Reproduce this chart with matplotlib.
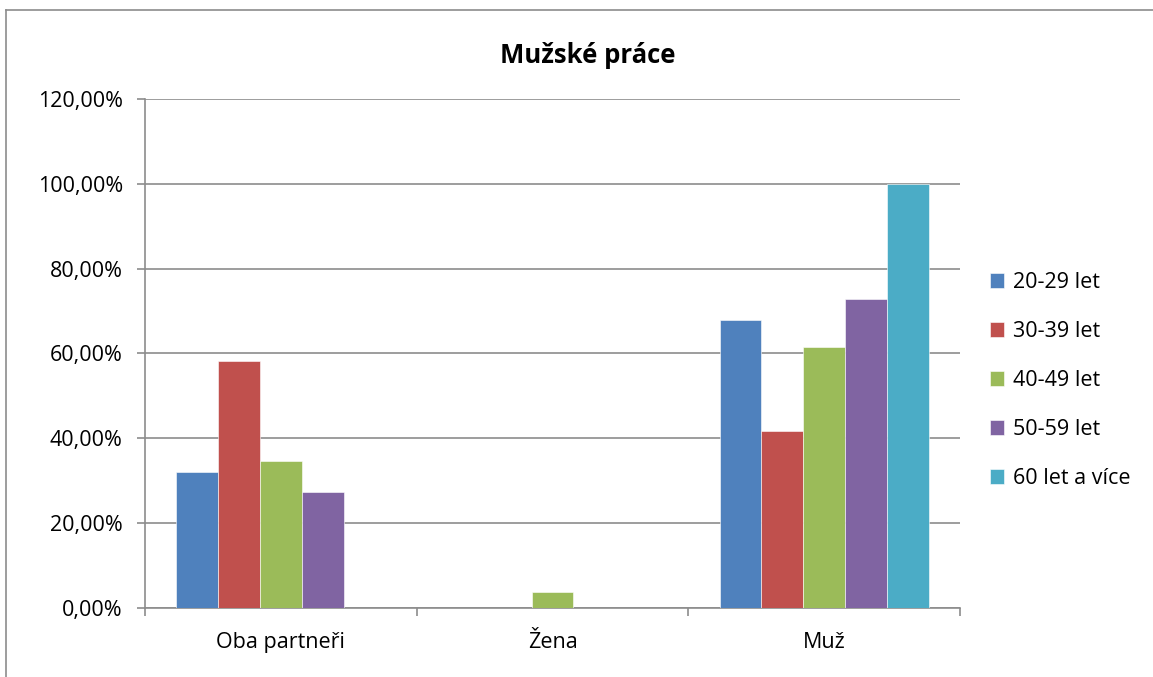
import matplotlib.pyplot as plt
from matplotlib.ticker import FuncFormatter
from matplotlib.lines import Line2D
import numpy as np

plt.rcParams['font.family'] = ['Open Sans', 'DejaVu Sans']

categories = ['Oba partneři', 'Žena', 'Muž']
series = ['20-29 let', '30-39 let', '40-49 let', '50-59 let', '60 let a více']
colors = ['#4F81BD', '#C0504D', '#9BBB59', '#8064A2', '#4BACC6']

# percent values per age group, one per category
v20 = [32.14, 0.0, 67.86]
v30 = [58.33, 0.0, 41.67]
v40 = [34.62, 3.85, 61.54]
v50 = [27.27, 0.0, 72.73]
v60 = [0.0, 0.0, 100.0]
values = [v20, v30, v40, v50, v60]

fig = plt.figure(figsize=(11.53, 6.77), dpi=100)
ax = fig.add_axes([0.1258, 0.1019, 0.7068, 0.7519])

x = np.arange(len(categories))
w = 0.154
for i, (name, vals) in enumerate(zip(series, values)):
    ax.bar(x + (i - 2) * w, vals, width=w, color=colors[i], label=name,
           edgecolor='white', linewidth=0.4, zorder=3)

ax.set_xlim(-0.5, 2.5)
ax.set_ylim(0, 120)
ax.set_yticks(range(0, 121, 20))
ax.yaxis.set_major_formatter(FuncFormatter(lambda v, p: f'{v:.2f}'.replace('.', ',') + '%'))
ax.grid(axis='y', color='#8C8C8C', linewidth=1.2, zorder=0)

ax.set_xticks(x)
ax.set_xticklabels(categories)
ax.set_xticks([-0.5, 0.5, 1.5, 2.5], minor=True)
ax.tick_params(axis='x', which='major', length=0, pad=17, labelsize=15.5)
ax.tick_params(axis='x', which='minor', length=6, color='#8C8C8C', width=1.2)
ax.tick_params(axis='y', length=6, color='#8C8C8C', width=1.2, labelsize=15.5, pad=10)

for s in ['top', 'right']:
    ax.spines[s].set_visible(False)
for s in ['left', 'bottom']:
    ax.spines[s].set_color('#8C8C8C')
    ax.spines[s].set_linewidth(1.2)

fig.text(0.51, 0.918, 'Mužské práce', ha='center', va='center',
         fontsize=18.5, fontweight='bold')

handles, labels = ax.get_legend_handles_labels()
fig.legend(handles, labels, loc='center left', bbox_to_anchor=(0.842, 0.438),
           frameon=False, fontsize=15.5, handlelength=0.65, handleheight=0.65,
           handletextpad=0.4, labelspacing=1.3)

# chart frame
fig.add_artist(Line2D([6 / 1153, 6 / 1153], [0, 1 - 10 / 677], color='#8C8C8C', lw=1.2))
fig.add_artist(Line2D([6 / 1153, 1], [1 - 10 / 677, 1 - 10 / 677], color='#8C8C8C', lw=1.2))

fig.savefig('out.png', dpi=100)
